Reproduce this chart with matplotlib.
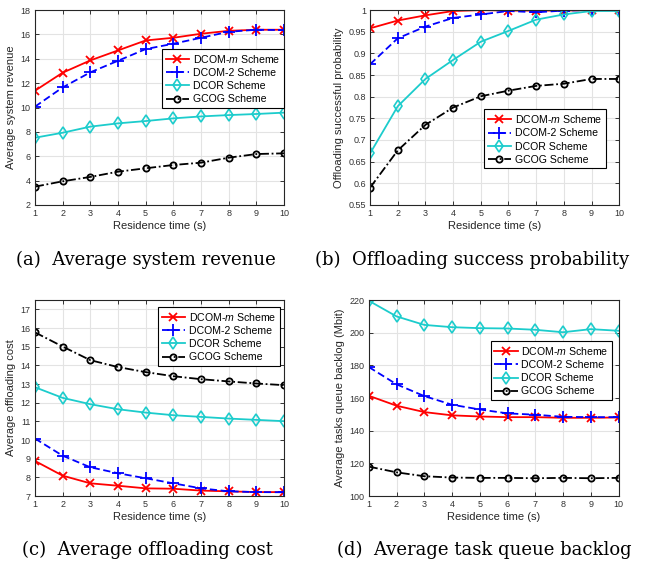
import numpy as np
import matplotlib.pyplot as plt

residence_time = np.arange(1, 11)

# (a) average system revenue
revenue_dcom_m = [11.38, 12.86, 13.87, 14.69, 15.51, 15.73, 16.06, 16.30, 16.39, 16.39]
revenue_dcom_2 = [10.07, 11.65, 12.89, 13.84, 14.80, 15.24, 15.73, 16.22, 16.39, 16.36]
revenue_dcor = [7.52, 7.93, 8.43, 8.70, 8.89, 9.11, 9.27, 9.38, 9.47, 9.58]
revenue_gcog = [3.50, 3.94, 4.30, 4.73, 5.01, 5.28, 5.47, 5.88, 6.18, 6.24]

# (b) offloading success probability
prob_dcom_m = [0.958, 0.976, 0.988, 0.998, 1.000, 0.999, 0.999, 0.999, 1.000, 1.000]
prob_dcom_2 = [0.875, 0.935, 0.962, 0.982, 0.990, 0.998, 0.995, 0.999, 1.000, 1.000]
prob_dcor = [0.669, 0.778, 0.841, 0.885, 0.927, 0.952, 0.978, 0.990, 0.998, 0.998]
prob_gcog = [0.590, 0.676, 0.735, 0.775, 0.801, 0.814, 0.825, 0.830, 0.841, 0.841]

# (c) average offloading cost
cost_dcom_m = [8.88, 8.09, 7.68, 7.55, 7.41, 7.39, 7.29, 7.25, 7.21, 7.21]
cost_dcom_2 = [10.08, 9.16, 8.54, 8.22, 7.95, 7.68, 7.41, 7.25, 7.21, 7.20]
cost_dcor = [12.83, 12.26, 11.92, 11.65, 11.47, 11.33, 11.24, 11.15, 11.08, 11.01]
cost_gcog = [15.77, 15.01, 14.28, 13.91, 13.64, 13.42, 13.26, 13.14, 13.03, 12.94]

# (d) average task queue backlog (Mbit)
backlog_dcom_m = [161.4, 155.3, 151.4, 149.4, 148.7, 148.3, 148.3, 147.9, 147.9, 148.1]
backlog_dcom_2 = [179.0, 168.4, 161.2, 155.9, 153.0, 150.6, 149.8, 148.5, 148.3, 148.3]
backlog_dcor = [219.6, 210.0, 204.8, 203.4, 202.8, 202.6, 201.8, 200.3, 202.2, 201.2]
backlog_gcog = [118.0, 114.5, 112.1, 111.3, 111.1, 111.1, 110.9, 111.1, 110.9, 111.1]

SCHEMES = ["DCOM-$m$ Scheme", "DCOM-2 Scheme", "DCOR Scheme", "GCOG Scheme"]

plt.rcParams["font.family"] = ["Liberation Sans", "DejaVu Sans"]
plt.rcParams["mathtext.fontset"] = "custom"
plt.rcParams["mathtext.it"] = "Liberation Sans:italic"
plt.rcParams["mathtext.rm"] = "Liberation Sans"

CYAN = "#1ccccc"


def draw_panel(ax, series, ylim, yticks, ylabel, legend_anchor):
    styles = [
        dict(color="red", linestyle="-", marker="x", markersize=6, mew=1.3),
        dict(color="blue", linestyle=(0, (4, 2)), marker="+", markersize=8, mew=1.3),
        dict(color=CYAN, linestyle="-", marker="d", markersize=6.5,
             markerfacecolor="none", mew=1.2),
        dict(color="black", linestyle=(0, (5, 1.5, 1, 1.5)), marker="o", markersize=4.5,
             markerfacecolor="none", mew=1.3),
    ]
    for values, label, st in zip(series, SCHEMES, styles):
        ax.plot(residence_time, values, linewidth=1.3, label=label, **st)

    ax.set_xlim(1, 10)
    ax.set_ylim(*ylim)
    ax.set_xticks(residence_time)
    ax.set_yticks(yticks)
    ax.grid(True, color="#e3e3e3", linewidth=0.8)
    ax.set_axisbelow(True)
    ax.tick_params(direction="in", labelsize=6.5, length=3, width=0.7,
                   colors="#333333", top=True, right=True, pad=3)
    for spine in ax.spines.values():
        spine.set_linewidth(0.8)
        spine.set_color("#262626")
    ax.set_xlabel("Residence time (s)", fontsize=8, color="#262626", labelpad=2)
    ax.set_ylabel(ylabel, fontsize=8, color="#262626", labelpad=3)
    leg = ax.legend(loc="upper left", bbox_to_anchor=legend_anchor, fontsize=7.6,
                    fancybox=False, edgecolor="black", framealpha=1,
                    handlelength=2.2, handletextpad=0.35, borderpad=0.35,
                    labelspacing=0.3, borderaxespad=0)
    leg.get_frame().set_linewidth(0.8)


fig = plt.figure(figsize=(6.47, 5.63), dpi=100)

ax_a = fig.add_axes([0.054, 0.636, 0.385, 0.346])
ax_b = fig.add_axes([0.572, 0.636, 0.385, 0.346])
ax_c = fig.add_axes([0.054, 0.119, 0.385, 0.348])
ax_d = fig.add_axes([0.570, 0.119, 0.386, 0.348])

draw_panel(ax_a, [revenue_dcom_m, revenue_dcom_2, revenue_dcor, revenue_gcog],
           (2, 18), np.arange(2, 19, 2), "Average system revenue", (0.51, 0.80))
draw_panel(ax_b, [prob_dcom_m, prob_dcom_2, prob_dcor, prob_gcog],
           (0.55, 1.0), np.round(np.arange(0.55, 1.001, 0.05), 2),
           "Offloading successful probability", (0.458, 0.49))
ax_b.set_yticklabels(["0.55", "0.6", "0.65", "0.7", "0.75", "0.8", "0.85", "0.9", "0.95", "1"])
draw_panel(ax_c, [cost_dcom_m, cost_dcom_2, cost_dcor, cost_gcog],
           (7, 17.5), np.arange(7, 18, 1), "Average offloading cost", (0.494, 0.964))
draw_panel(ax_d, [backlog_dcom_m, backlog_dcom_2, backlog_dcor, backlog_gcog],
           (100, 220), np.arange(100, 221, 20), "Average tasks queue backlog (Mbit)", (0.488, 0.79))

captions = [
    (0.225, 0.538, "(a)  Average system revenue"),
    (0.730, 0.538, "(b)  Offloading success probability"),
    (0.228, 0.024, "(c)  Average offloading cost"),
    (0.748, 0.024, "(d)  Average task queue backlog"),
]
for x, y, text in captions:
    fig.text(x, y, text, ha="center", va="center", fontsize=13,
             family=["DejaVu Serif"])

fig.savefig("out.png", dpi=100)
